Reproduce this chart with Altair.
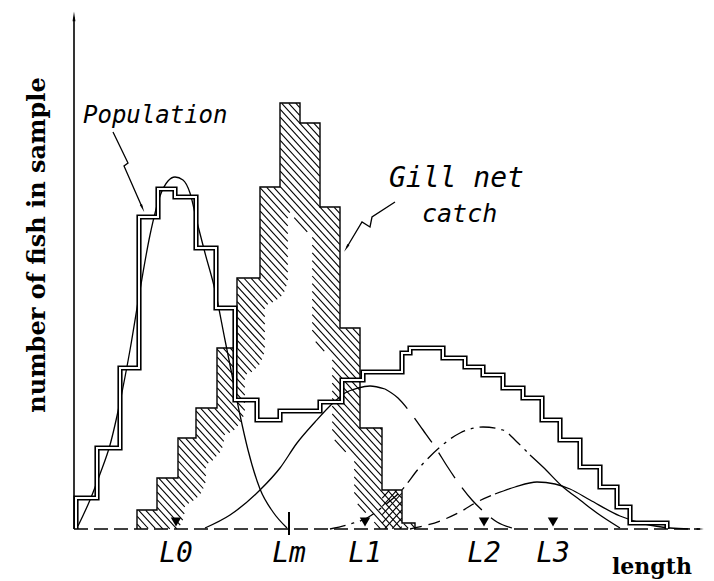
import numpy as np
import pandas as pd
import altair as alt

# ---------------- length-frequency data (length in cm, number of fish) ----------------
# Population sample: class edges and counts
pop_edges = [0.10, 1.15, 2.30, 3.25, 4.20, 5.05, 6.10, 7.10, 8.05, 9.15, 10.30, 12.30,
             13.40, 14.45, 16.40, 16.80, 18.45, 19.55, 20.45, 21.45, 22.45, 23.40,
             24.30, 25.30, 26.30, 27.15, 27.80, 29.65]
pop_counts = [6.2, 16.2, 32.2, 62.4, 68.0, 66.4, 56.2, 44.2, 25.8, 21.8, 23.6, 25.4,
              29.8, 31.4, 35.2, 36.2, 34.2, 32.4, 30.8, 28.2, 26.2, 21.8, 17.8, 12.4,
              8.4, 4.4, 1.2]

# Gill net catch: class edges and counts
gill_edges = [3.15, 4.15, 5.20, 6.10, 7.15, 8.15, 9.30, 10.30, 11.30, 12.30, 13.30,
              14.30, 15.40, 16.40, 17.05]
gill_counts = [3.8, 10.2, 18.2, 24.2, 36.2, 50.2, 68.4, 85.2, 81.2, 64.4, 40.2, 20.2,
               7.8, 1.2]

# Fitted age-group components
c0_len = [0.20, 0.80, 1.30, 1.80, 2.30, 2.80, 3.30, 3.80, 4.30, 4.70, 5.05, 5.45, 5.80,
          6.15, 6.55, 7.05, 7.55, 7.95, 8.30, 8.70, 9.30, 9.95, 10.65]
c0_n = [0.6, 5.8, 11.0, 16.8, 25.4, 35.8, 47.8, 58.8, 66.6, 69.6, 70.4, 69.8, 67.2,
        61.4, 55.2, 47.8, 37.8, 29.8, 22.8, 15.8, 8.0, 3.4, 0.2]

c1_len = [6.55, 7.80, 9.30, 10.30, 11.15, 12.05, 12.95, 13.55, 14.20, 14.80, 15.55,
          16.20, 16.80, 17.45, 18.15, 18.65, 19.30, 19.90, 20.45, 21.15, 21.90]
c1_n = [0.2, 2.8, 7.8, 12.2, 17.2, 21.4, 25.2, 27.2, 28.2, 28.6, 28.0,
        26.2, 23.4, 19.8, 15.8, 12.6, 8.8, 5.8, 3.6, 1.4, 0.2]

c2_len = [12.80, 13.80, 14.65, 15.55, 16.30, 17.30, 18.30, 19.30, 20.45, 21.45, 22.15,
          22.80, 23.45, 24.45, 25.30, 26.15, 27.30]
c2_n = [0.0, 1.0, 2.2, 4.8, 7.4, 12.4, 16.4, 19.2, 20.4, 19.8, 17.4,
        14.8, 12.4, 8.4, 5.8, 3.2, 0.2]

c3_len = [16.80, 18.30, 19.30, 20.15, 21.05, 22.05, 23.15, 24.05, 24.80, 25.80, 27.30,
          28.55, 29.80, 30.80]
c3_n = [0.0, 1.6, 3.4, 5.4, 7.0, 8.4, 9.4, 9.0, 8.0, 5.8, 2.6, 1.0, 0.2, 0.0]

# Reference lengths on the length axis
mark_names = ["L0", "Lm", "L1", "L2", "L3"]
mark_len = [5.10, 10.75, 14.55, 20.50, 23.95]

# Callout arrows (data units)
pop_arrow_len = [1.95, 2.70, 2.50, 3.40]
pop_arrow_n = [79.4, 73.2, 72.6, 64.4]
gill_arrow_len = [16.05, 14.90, 14.80, 14.40, 13.65]
gill_arrow_n = [65.4, 62.4, 60.4, 61.4, 56.4]

# ---------------- scales ----------------
W, H = 714, 581
X0_PX, PX_PER_CM = 74.0, 20.0
Y0_PX, PX_PER_FISH = 529.0, 5.0
x_dom = [(0 - X0_PX) / PX_PER_CM, (W - X0_PX) / PX_PER_CM]
y_dom = [(Y0_PX - H) / PX_PER_FISH, Y0_PX / PX_PER_FISH]
xscale = alt.Scale(domain=x_dom, nice=False, zero=False)
yscale = alt.Scale(domain=y_dom, nice=False, zero=False)


def ex(f):
    return alt.X(f, type="quantitative", scale=xscale, axis=None)


def ey(f):
    return alt.Y(f, type="quantitative", scale=yscale, axis=None)


def staircase(edges, counts):
    pts = [(edges[0], 0.0)]
    for i, c in enumerate(counts):
        pts.append((edges[i], c))
        pts.append((edges[i + 1], c))
    pts.append((edges[-1], 0.0))
    return pts


def path_df(pts):
    return pd.DataFrame({"l": [p[0] for p in pts], "n": [p[1] for p in pts],
                         "o": list(range(len(pts)))})


# ---------------- hatching of the gill-net catch ----------------
def hatch_segments(edges, counts, band=28.0, slope=1.1, gap=5.2):
    """Diagonal hatch inside a band along the staircase outline (screen space)."""
    e_px = X0_PX + PX_PER_CM * np.asarray(edges)
    t_px = Y0_PX - PX_PER_FISH * np.asarray(counts)
    pts = np.array([(X0_PX + PX_PER_CM * l, Y0_PX - PX_PER_FISH * n)
                    for l, n in staircase(edges, counts)])
    A, B = pts[:-1], pts[1:]

    def dist(px, py):
        ax, ay = A[:, 0][None, :], A[:, 1][None, :]
        dx, dy = (B[:, 0] - A[:, 0])[None, :], (B[:, 1] - A[:, 1])[None, :]
        L2 = np.where(dx * dx + dy * dy == 0, 1e-9, dx * dx + dy * dy)
        t = np.clip(((px[:, None] - ax) * dx + (py[:, None] - ay) * dy) / L2, 0, 1)
        qx, qy = ax + t * dx, ay + t * dy
        return np.sqrt((px[:, None] - qx) ** 2 + (py[:, None] - qy) ** 2).min(axis=1)

    xs = np.arange(e_px[0] + 0.25, e_px[-1], 0.5)
    idx = np.clip(np.searchsorted(e_px, xs, side="right") - 1, 0, len(t_px) - 1)
    top = t_px[idx]
    step = gap * np.hypot(1.0, slope)
    corners = [y - slope * x for x in (e_px[0], e_px[-1]) for y in (t_px.min(), Y0_PX)]
    rows = []
    for c in np.arange(min(corners), max(corners), step):
        ys = slope * xs + c
        m = (ys > top) & (ys < Y0_PX)
        if not m.any():
            continue
        m &= dist(xs, ys) < band
        d = np.diff(np.concatenate([[0], m.astype(int), [0]]))
        starts = np.where(d == 1)[0]
        ends = np.where(d == -1)[0] - 1
        for s, e in zip(starts, ends):
            if e - s < 2:
                continue
            rows.append({
                "l0": (xs[s] - X0_PX) / PX_PER_CM, "n0": (Y0_PX - ys[s]) / PX_PER_FISH,
                "l1": (xs[e] - X0_PX) / PX_PER_CM, "n1": (Y0_PX - ys[e]) / PX_PER_FISH,
            })
    return pd.DataFrame(rows)


hatch_df = pd.concat([
    hatch_segments(gill_edges, gill_counts),
    # cross-hatch in the last full class of the catch
    hatch_segments(gill_edges[12:14], gill_counts[12:13], band=100.0, slope=-1.1, gap=5.6),
], ignore_index=True)

hatch = alt.Chart(hatch_df).mark_rule(
    color="black", strokeWidth=1.1
).encode(x=ex("l0"), y=ey("n0"), x2="l1", y2="n1")

gill_outline = alt.Chart(path_df(staircase(gill_edges, gill_counts))).mark_line(
    color="black", strokeWidth=1.4, strokeJoin="miter"
).encode(x=ex("l"), y=ey("n"), order="o:Q")

# Population histogram drawn as a double line
pop_df = path_df(staircase(pop_edges, pop_counts))
pop_outer = alt.Chart(pop_df).mark_line(
    color="black", strokeWidth=5.2, strokeJoin="miter"
).encode(x=ex("l"), y=ey("n"), order="o:Q")
pop_inner = alt.Chart(pop_df).mark_line(
    color="white", strokeWidth=2.0, strokeJoin="miter"
).encode(x=ex("l"), y=ey("n"), order="o:Q")


def curve(lengths, counts, dash=None, lo=None, hi=None):
    df = pd.DataFrame({"l": lengths, "n": counts})
    if lo is not None:
        df = df[df.l >= lo]
    if hi is not None:
        df = df[df.l <= hi]
    kw = dict(color="black", strokeWidth=1.3, interpolate="monotone")
    if dash:
        kw["strokeDash"] = dash
    return alt.Chart(df).mark_line(**kw).encode(x=ex("l"), y=ey("n"), order="l:Q")


curves = [
    curve(c0_len, c0_n),
    curve(c1_len, c1_n, hi=15.55),
    curve(c1_len, c1_n, dash=[30, 12], lo=15.55),
    curve(c2_len, c2_n, dash=[16, 6, 3, 6], hi=22.80),
    curve(c2_len, c2_n, lo=22.80),
    curve(c3_len, c3_n, dash=[12, 7], hi=21.05),
    curve(c3_len, c3_n, lo=21.05),
]

# ---------------- axes ----------------
y_top = (Y0_PX - 10) / PX_PER_FISH
x_end = (706 - X0_PX) / PX_PER_CM
axis_y = alt.Chart(pd.DataFrame({"l": [0.0], "n0": [0.0], "n1": [y_top - 1.5]})).mark_rule(
    color="black", strokeWidth=1.6
).encode(x=ex("l"), y=ey("n0"), y2="n1")
axis_y_head = alt.Chart(pd.DataFrame({"l": [0.0], "n": [y_top - 1.6]})).mark_point(
    shape="wedge", filled=True, color="black", size=130, opacity=1
).encode(x=ex("l"), y=ey("n"))
axis_x = alt.Chart(pd.DataFrame({"l0": [0.0], "l1": [x_end - 0.3], "n": [0.0]})).mark_rule(
    color="black", strokeWidth=1.3, strokeDash=[14, 6]
).encode(x=ex("l0"), x2="l1", y=ey("n"))
axis_x_head = alt.Chart(pd.DataFrame({"l": [x_end - 0.35], "n": [0.0]})).mark_point(
    shape="wedge", angle=90, filled=True, color="black", size=70, opacity=1
).encode(x=ex("l"), y=ey("n"))

# ---------------- reference lengths ----------------
mk = pd.DataFrame({"name": mark_names, "l": mark_len})
tri = alt.Chart(mk[mk.name != "Lm"]).mark_point(
    shape="triangle-down", filled=True, color="black", opacity=1
).encode(
    x=ex("l"), y=alt.Y(datum=1.4, type="quantitative", scale=yscale, axis=None),
    size=alt.Size("name:N", scale=alt.Scale(domain=["L0", "L1", "L2", "L3"],
                                            range=[110, 110, 55, 55]), legend=None),
)
lm_tick = alt.Chart(mk[mk.name == "Lm"].assign(n0=-1.2, n1=3.4)).mark_rule(
    color="black", strokeWidth=2
).encode(x=ex("l"), y=ey("n0"), y2="n1")
mk_text = alt.Chart(mk.assign(n=-6.6)).mark_text(
    font="DejaVu Sans Mono", fontStyle="italic", fontSize=28, align="center",
    baseline="alphabetic", color="black"
).encode(x=ex("l"), y=ey("n"), text="name:N")

# ---------------- labels and callouts ----------------
def arrow(lengths, counts, angle):
    df = pd.DataFrame({"l": lengths, "n": counts, "o": range(len(lengths))})
    line = alt.Chart(df).mark_line(color="black", strokeWidth=1.3).encode(
        x=ex("l"), y=ey("n"), order="o:Q")
    head = alt.Chart(df.tail(1)).mark_point(
        shape="wedge", angle=angle, filled=True, color="black", size=90, opacity=1
    ).encode(x=ex("l"), y=ey("n"))
    return line + head


pop_arrow = arrow(pop_arrow_len, pop_arrow_n, 156)
gill_arrow = arrow(gill_arrow_len, gill_arrow_n, 211)

notes = pd.DataFrame({
    "t": ["Population", "Gill net", "catch"],
    "l": [0.45, 15.75, 17.40],
    "n": [81.2, 68.4, 61.4],
    "s": [24, 28, 25],
})
note_text = alt.Chart(notes).mark_text(
    font="DejaVu Sans Mono", fontStyle="italic", align="left",
    baseline="alphabetic", color="black"
).encode(x=ex("l"), y=ey("n"), text="t:N",
         size=alt.Size("s:Q", scale=None, legend=None))

ylab = alt.Chart(pd.DataFrame({"t": ["number of fish in sample"], "l": [-1.45], "n": [56.8]})).mark_text(
    font="DejaVu Serif", fontWeight="bold", fontSize=24, angle=270, align="center",
    baseline="alphabetic", color="black"
).encode(x=ex("l"), y=ey("n"), text="t:N")
xlab = alt.Chart(pd.DataFrame({"t": ["length"], "l": [26.9], "n": [-9.0]})).mark_text(
    font="DejaVu Serif", fontWeight="bold", fontSize=22, align="left",
    baseline="alphabetic", color="black"
).encode(x=ex("l"), y=ey("n"), text="t:N")

chart = alt.layer(
    hatch, gill_outline, *curves, pop_outer, pop_inner,
    axis_x, axis_x_head, axis_y, axis_y_head,
    tri, lm_tick, mk_text, pop_arrow, gill_arrow, note_text, ylab, xlab,
).properties(
    width=W, height=H, padding=0, autosize="none", background="white"
).configure_view(strokeWidth=0)

chart.save("out.html", embed_options={"renderer": "svg", "actions": False})
